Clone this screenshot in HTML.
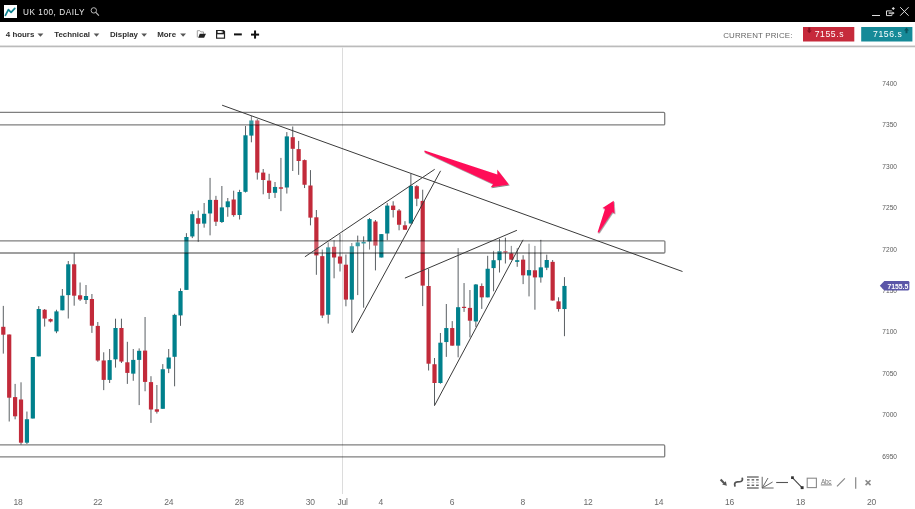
<!DOCTYPE html>
<html><head><meta charset="utf-8">
<style>
html,body{margin:0;padding:0;background:#fff;}
body{width:915px;height:509px;overflow:hidden;position:relative;font-family:"Liberation Sans",sans-serif;}
svg{position:absolute;left:0;top:0;will-change:transform;}
</style></head><body>
<svg width="915" height="509" viewBox="0 0 915 509">
<defs>
<filter id="sh" x="-20%" y="-20%" width="140%" height="160%"><feDropShadow dx="0.6" dy="1" stdDeviation="0.7" flood-color="#000" flood-opacity="0.5"/></filter>
<linearGradient id="tbl" x1="0" y1="0" x2="0" y2="1"><stop offset="0" stop-color="#e2e2e2"/><stop offset="1" stop-color="#a6a6a6"/></linearGradient>
</defs>
<!-- header -->
<rect x="0" y="0" width="915" height="22" fill="#000"/>
<rect x="4" y="5" width="13" height="13" fill="#fff"/>
<polyline points="5.4,15.4 8.4,9.6 11.1,12.3 14.8,8.3" fill="none" stroke="#0f8492" stroke-width="1.7" stroke-linecap="round" stroke-linejoin="round"/>
<text x="23" y="14.8" fill="#e8e8e8" font-size="8.2" letter-spacing="0.55">UK 100, DAILY</text>
<circle cx="93.8" cy="10.4" r="2.7" fill="none" stroke="#b8b8b8" stroke-width="1"/>
<line x1="95.8" y1="12.4" x2="98.9" y2="15.6" stroke="#b8b8b8" stroke-width="1.2"/>
<line x1="872" y1="15.5" x2="880" y2="15.5" stroke="#ddd" stroke-width="1"/>
<path d="M891.8 10.9 L886.5 10.9 L886.5 15.6 L891.8 15.6 L891.8 14.4" fill="none" stroke="#ddd" stroke-width="1"/>
<line x1="888.6" y1="13.1" x2="892.6" y2="13.1" stroke="#ddd" stroke-width="1.3"/>
<path d="M892.4 11.5 L894.6 13.1 L892.4 14.7 Z" fill="#ddd"/>
<path d="M893.3 6.9 L894.9 8.5 L893.3 10.1 L891.7 8.5 Z" fill="#ddd"/>
<line x1="900.2" y1="7.2" x2="908.6" y2="15.7" stroke="#ddd" stroke-width="1"/>
<line x1="908.6" y1="7.2" x2="900.2" y2="15.7" stroke="#ddd" stroke-width="1"/>
<!-- toolbar -->
<g font-size="7.9" font-weight="bold" fill="#2e2e2e">
<text x="5.8" y="37.2">4 hours</text>
<text x="54.2" y="37.2">Technical</text>
<text x="109.9" y="37.2">Display</text>
<text x="157.2" y="37.2">More</text>
</g>
<g fill="#555">
<path d="M37.5 33.6 L43.4 33.6 L40.45 36.8 Z"/>
<path d="M93.7 33.6 L99.3 33.6 L96.5 36.8 Z"/>
<path d="M141.3 33.6 L147 33.6 L144.15 36.8 Z"/>
<path d="M180.2 33.6 L186 33.6 L183.1 36.8 Z"/>
</g>
<!-- folder -->
<path d="M203.5 33.8 L203.5 31.9 L200.9 31.9 L199.9 30.7 L197.3 30.7 L197.3 37.4" fill="none" stroke="#a0a0a0" stroke-width="1"/>
<path d="M199.7 33.8 L206 33.8 L204.1 37.8 L198.2 37.8 Z" fill="#222"/>
<!-- save -->
<path d="M216 30 L223.8 30 L225.1 31.3 L225.1 38.8 L216 38.8 Z" fill="#222"/>
<rect x="217.6" y="31" width="5.2" height="1.9" fill="#fff"/>
<rect x="221.7" y="31.2" width="1" height="1.3" fill="#333"/>
<rect x="217.2" y="34.3" width="6.7" height="3.3" fill="#fff"/>
<rect x="234" y="33.4" width="7.8" height="2" fill="#111"/>
<rect x="251" y="33.6" width="8.1" height="2" fill="#111"/>
<rect x="254.05" y="30.5" width="2" height="8.1" fill="#111"/>
<text x="723.2" y="37.8" fill="#666" font-size="7.9" letter-spacing="0.18">CURRENT PRICE:</text>
<rect x="803" y="27" width="51.3" height="14.5" fill="#c62a3b"/>
<path d="M808.3 27.6 L810.3 27.6 L810.3 30.5 L811.8 30.5 L809.3 33.3 L806.8 30.5 L808.3 30.5 Z" fill="#8a1222"/>
<text x="814.7" y="36.7" fill="#fff" font-size="8.6" letter-spacing="0.6">7155.s</text>
<rect x="861.2" y="27" width="51.2" height="14.5" fill="#168a98"/>
<path d="M905.5 33.3 L907.5 33.3 L907.5 30.4 L909 30.4 L906.5 27.6 L904 30.4 L905.5 30.4 Z" fill="#0a5660"/>
<text x="873" y="36.7" fill="#fff" font-size="8.6" letter-spacing="0.6">7156.s</text>
<rect x="0" y="45.2" width="915" height="2" fill="url(#tbl)"/>
<!-- chart -->
<line x1="342.5" y1="47.5" x2="342.5" y2="494" stroke="#dcdcdc" stroke-width="1"/>
<g id="candles">
<line x1="3.30" y1="305.90" x2="3.30" y2="353.60" stroke="#5a5f63" stroke-width="1"/>
<rect x="1.20" y="326.80" width="4.2" height="7.90" fill="#c22a3a"/>
<line x1="9.21" y1="334.50" x2="9.21" y2="421.50" stroke="#5a5f63" stroke-width="1"/>
<rect x="7.11" y="334.50" width="4.2" height="63.20" fill="#c22a3a"/>
<line x1="15.11" y1="383.90" x2="15.11" y2="419.30" stroke="#5a5f63" stroke-width="1"/>
<rect x="13.01" y="397.10" width="4.2" height="19.20" fill="#c22a3a"/>
<line x1="21.02" y1="382.30" x2="21.02" y2="444.50" stroke="#5a5f63" stroke-width="1"/>
<rect x="18.92" y="399.50" width="4.2" height="43.20" fill="#c22a3a"/>
<line x1="26.93" y1="411.55" x2="26.93" y2="444.00" stroke="#5a5f63" stroke-width="1"/>
<rect x="24.83" y="419.25" width="4.2" height="23.45" fill="#00808c"/>
<line x1="32.84" y1="357.00" x2="32.84" y2="418.50" stroke="#5a5f63" stroke-width="1"/>
<rect x="30.73" y="357.00" width="4.2" height="61.50" fill="#00808c"/>
<line x1="38.74" y1="306.10" x2="38.74" y2="356.40" stroke="#5a5f63" stroke-width="1"/>
<rect x="36.64" y="309.00" width="4.2" height="47.40" fill="#00808c"/>
<line x1="44.65" y1="309.00" x2="44.65" y2="326.60" stroke="#5a5f63" stroke-width="1"/>
<rect x="42.55" y="309.75" width="4.2" height="8.80" fill="#c22a3a"/>
<line x1="50.56" y1="318.50" x2="50.56" y2="322.40" stroke="#5a5f63" stroke-width="1"/>
<rect x="48.46" y="319.10" width="4.2" height="2.40" fill="#c22a3a"/>
<line x1="56.46" y1="309.75" x2="56.46" y2="333.20" stroke="#5a5f63" stroke-width="1"/>
<rect x="54.36" y="311.40" width="4.2" height="20.00" fill="#00808c"/>
<line x1="62.37" y1="289.00" x2="62.37" y2="310.30" stroke="#5a5f63" stroke-width="1"/>
<rect x="60.27" y="295.70" width="4.2" height="14.60" fill="#00808c"/>
<line x1="68.28" y1="261.00" x2="68.28" y2="318.50" stroke="#5a5f63" stroke-width="1"/>
<rect x="66.18" y="264.30" width="4.2" height="30.80" fill="#00808c"/>
<line x1="74.18" y1="253.30" x2="74.18" y2="305.70" stroke="#5a5f63" stroke-width="1"/>
<rect x="72.08" y="264.30" width="4.2" height="31.40" fill="#c22a3a"/>
<line x1="80.09" y1="282.50" x2="80.09" y2="301.00" stroke="#5a5f63" stroke-width="1"/>
<rect x="77.99" y="295.30" width="4.2" height="4.20" fill="#c22a3a"/>
<line x1="86.00" y1="285.00" x2="86.00" y2="304.00" stroke="#5a5f63" stroke-width="1"/>
<rect x="83.90" y="296.00" width="4.2" height="4.00" fill="#00808c"/>
<line x1="91.91" y1="294.00" x2="91.91" y2="332.90" stroke="#5a5f63" stroke-width="1"/>
<rect x="89.81" y="299.00" width="4.2" height="26.70" fill="#c22a3a"/>
<line x1="97.81" y1="322.00" x2="97.81" y2="361.70" stroke="#5a5f63" stroke-width="1"/>
<rect x="95.71" y="325.90" width="4.2" height="34.60" fill="#c22a3a"/>
<line x1="103.72" y1="352.30" x2="103.72" y2="390.15" stroke="#5a5f63" stroke-width="1"/>
<rect x="101.62" y="360.45" width="4.2" height="19.45" fill="#c22a3a"/>
<line x1="109.63" y1="349.00" x2="109.63" y2="383.00" stroke="#5a5f63" stroke-width="1"/>
<rect x="107.53" y="360.10" width="4.2" height="19.80" fill="#00808c"/>
<line x1="115.53" y1="318.70" x2="115.53" y2="367.60" stroke="#5a5f63" stroke-width="1"/>
<rect x="113.43" y="328.00" width="4.2" height="31.35" fill="#00808c"/>
<line x1="121.44" y1="318.70" x2="121.44" y2="363.00" stroke="#5a5f63" stroke-width="1"/>
<rect x="119.34" y="328.00" width="4.2" height="33.55" fill="#c22a3a"/>
<line x1="127.35" y1="341.80" x2="127.35" y2="383.90" stroke="#5a5f63" stroke-width="1"/>
<rect x="125.25" y="362.30" width="4.2" height="10.60" fill="#c22a3a"/>
<line x1="133.25" y1="349.00" x2="133.25" y2="380.80" stroke="#5a5f63" stroke-width="1"/>
<rect x="131.15" y="359.90" width="4.2" height="13.75" fill="#00808c"/>
<line x1="139.16" y1="348.40" x2="139.16" y2="405.10" stroke="#5a5f63" stroke-width="1"/>
<rect x="137.06" y="350.80" width="4.2" height="9.10" fill="#00808c"/>
<line x1="145.07" y1="317.00" x2="145.07" y2="391.25" stroke="#5a5f63" stroke-width="1"/>
<rect x="142.97" y="350.60" width="4.2" height="31.30" fill="#c22a3a"/>
<line x1="150.98" y1="376.20" x2="150.98" y2="422.90" stroke="#5a5f63" stroke-width="1"/>
<rect x="148.88" y="382.10" width="4.2" height="27.40" fill="#c22a3a"/>
<line x1="156.88" y1="385.00" x2="156.88" y2="413.55" stroke="#5a5f63" stroke-width="1"/>
<rect x="154.78" y="409.30" width="4.2" height="2.40" fill="#c22a3a"/>
<line x1="162.79" y1="364.10" x2="162.79" y2="408.80" stroke="#5a5f63" stroke-width="1"/>
<rect x="160.69" y="369.25" width="4.2" height="39.55" fill="#00808c"/>
<line x1="168.70" y1="349.00" x2="168.70" y2="373.10" stroke="#5a5f63" stroke-width="1"/>
<rect x="166.60" y="357.50" width="4.2" height="11.20" fill="#00808c"/>
<line x1="174.60" y1="313.75" x2="174.60" y2="386.30" stroke="#5a5f63" stroke-width="1"/>
<rect x="172.50" y="314.85" width="4.2" height="41.95" fill="#00808c"/>
<line x1="180.51" y1="288.40" x2="180.51" y2="325.85" stroke="#5a5f63" stroke-width="1"/>
<rect x="178.41" y="291.00" width="4.2" height="24.40" fill="#00808c"/>
<line x1="186.42" y1="233.15" x2="186.42" y2="289.90" stroke="#5a5f63" stroke-width="1"/>
<rect x="184.32" y="237.00" width="4.2" height="52.90" fill="#00808c"/>
<line x1="192.32" y1="211.25" x2="192.32" y2="238.10" stroke="#5a5f63" stroke-width="1"/>
<rect x="190.22" y="214.20" width="4.2" height="22.25" fill="#00808c"/>
<line x1="198.23" y1="210.50" x2="198.23" y2="242.00" stroke="#5a5f63" stroke-width="1"/>
<rect x="196.13" y="218.20" width="4.2" height="5.60" fill="#c22a3a"/>
<line x1="204.14" y1="203.00" x2="204.14" y2="227.65" stroke="#5a5f63" stroke-width="1"/>
<rect x="202.04" y="213.80" width="4.2" height="9.80" fill="#00808c"/>
<line x1="210.05" y1="177.90" x2="210.05" y2="235.35" stroke="#5a5f63" stroke-width="1"/>
<rect x="207.95" y="199.90" width="4.2" height="13.55" fill="#00808c"/>
<line x1="215.95" y1="195.85" x2="215.95" y2="226.00" stroke="#5a5f63" stroke-width="1"/>
<rect x="213.85" y="199.90" width="4.2" height="21.80" fill="#c22a3a"/>
<line x1="221.86" y1="186.00" x2="221.86" y2="223.00" stroke="#5a5f63" stroke-width="1"/>
<rect x="219.76" y="207.40" width="4.2" height="14.60" fill="#00808c"/>
<line x1="227.77" y1="198.00" x2="227.77" y2="216.75" stroke="#5a5f63" stroke-width="1"/>
<rect x="225.67" y="201.35" width="4.2" height="5.85" fill="#00808c"/>
<line x1="233.67" y1="190.70" x2="233.67" y2="216.75" stroke="#5a5f63" stroke-width="1"/>
<rect x="231.57" y="199.50" width="4.2" height="15.60" fill="#c22a3a"/>
<line x1="239.58" y1="189.80" x2="239.58" y2="219.50" stroke="#5a5f63" stroke-width="1"/>
<rect x="237.48" y="192.00" width="4.2" height="23.00" fill="#00808c"/>
<line x1="245.49" y1="126.00" x2="245.49" y2="192.55" stroke="#5a5f63" stroke-width="1"/>
<rect x="243.39" y="135.30" width="4.2" height="56.50" fill="#00808c"/>
<line x1="251.39" y1="116.00" x2="251.39" y2="142.30" stroke="#5a5f63" stroke-width="1"/>
<rect x="249.29" y="120.45" width="4.2" height="15.15" fill="#00808c"/>
<line x1="257.30" y1="119.00" x2="257.30" y2="179.60" stroke="#5a5f63" stroke-width="1"/>
<rect x="255.20" y="120.45" width="4.2" height="52.15" fill="#c22a3a"/>
<line x1="263.21" y1="169.00" x2="263.21" y2="194.30" stroke="#5a5f63" stroke-width="1"/>
<rect x="261.11" y="172.60" width="4.2" height="7.40" fill="#c22a3a"/>
<line x1="269.12" y1="173.80" x2="269.12" y2="199.05" stroke="#5a5f63" stroke-width="1"/>
<rect x="267.01" y="180.60" width="4.2" height="12.30" fill="#c22a3a"/>
<line x1="275.02" y1="182.00" x2="275.02" y2="197.95" stroke="#5a5f63" stroke-width="1"/>
<rect x="272.92" y="186.95" width="4.2" height="5.85" fill="#00808c"/>
<line x1="280.93" y1="157.90" x2="280.93" y2="211.15" stroke="#5a5f63" stroke-width="1"/>
<rect x="278.83" y="187.30" width="4.2" height="1.40" fill="#c22a3a"/>
<line x1="286.84" y1="132.10" x2="286.84" y2="193.55" stroke="#5a5f63" stroke-width="1"/>
<rect x="284.74" y="136.40" width="4.2" height="51.10" fill="#00808c"/>
<line x1="292.74" y1="126.50" x2="292.74" y2="171.00" stroke="#5a5f63" stroke-width="1"/>
<rect x="290.64" y="137.20" width="4.2" height="11.60" fill="#c22a3a"/>
<line x1="298.65" y1="140.90" x2="298.65" y2="174.85" stroke="#5a5f63" stroke-width="1"/>
<rect x="296.55" y="149.10" width="4.2" height="11.90" fill="#c22a3a"/>
<line x1="304.56" y1="159.50" x2="304.56" y2="188.05" stroke="#5a5f63" stroke-width="1"/>
<rect x="302.46" y="160.10" width="4.2" height="24.65" fill="#c22a3a"/>
<line x1="310.46" y1="170.10" x2="310.46" y2="225.35" stroke="#5a5f63" stroke-width="1"/>
<rect x="308.36" y="185.50" width="4.2" height="32.15" fill="#c22a3a"/>
<line x1="316.37" y1="210.00" x2="316.37" y2="274.80" stroke="#5a5f63" stroke-width="1"/>
<rect x="314.27" y="217.30" width="4.2" height="38.10" fill="#c22a3a"/>
<line x1="322.28" y1="249.55" x2="322.28" y2="318.05" stroke="#5a5f63" stroke-width="1"/>
<rect x="320.18" y="256.15" width="4.2" height="59.35" fill="#c22a3a"/>
<line x1="328.19" y1="242.40" x2="328.19" y2="323.55" stroke="#5a5f63" stroke-width="1"/>
<rect x="326.08" y="247.35" width="4.2" height="67.40" fill="#00808c"/>
<line x1="334.09" y1="240.40" x2="334.09" y2="278.30" stroke="#5a5f63" stroke-width="1"/>
<rect x="331.99" y="246.80" width="4.2" height="10.70" fill="#c22a3a"/>
<line x1="340.00" y1="234.15" x2="340.00" y2="271.50" stroke="#5a5f63" stroke-width="1"/>
<rect x="337.90" y="256.50" width="4.2" height="7.10" fill="#c22a3a"/>
<line x1="345.91" y1="254.50" x2="345.91" y2="306.30" stroke="#5a5f63" stroke-width="1"/>
<rect x="343.81" y="264.70" width="4.2" height="34.90" fill="#c22a3a"/>
<line x1="351.81" y1="243.00" x2="351.81" y2="332.50" stroke="#5a5f63" stroke-width="1"/>
<rect x="349.71" y="246.25" width="4.2" height="53.35" fill="#00808c"/>
<line x1="357.72" y1="235.60" x2="357.72" y2="295.10" stroke="#5a5f63" stroke-width="1"/>
<rect x="355.62" y="242.40" width="4.2" height="3.85" fill="#00808c"/>
<line x1="363.63" y1="236.35" x2="363.63" y2="307.70" stroke="#5a5f63" stroke-width="1"/>
<rect x="361.53" y="241.85" width="4.2" height="1.65" fill="#00808c"/>
<line x1="369.53" y1="218.00" x2="369.53" y2="249.55" stroke="#5a5f63" stroke-width="1"/>
<rect x="367.43" y="219.10" width="4.2" height="22.40" fill="#00808c"/>
<line x1="375.44" y1="220.00" x2="375.44" y2="270.40" stroke="#5a5f63" stroke-width="1"/>
<rect x="373.34" y="221.50" width="4.2" height="24.10" fill="#c22a3a"/>
<line x1="381.35" y1="234.00" x2="381.35" y2="257.50" stroke="#5a5f63" stroke-width="1"/>
<rect x="379.25" y="234.10" width="4.2" height="23.40" fill="#00808c"/>
<line x1="387.25" y1="203.10" x2="387.25" y2="240.20" stroke="#5a5f63" stroke-width="1"/>
<rect x="385.15" y="205.60" width="4.2" height="27.90" fill="#00808c"/>
<line x1="393.16" y1="201.25" x2="393.16" y2="217.50" stroke="#5a5f63" stroke-width="1"/>
<rect x="391.06" y="205.60" width="4.2" height="4.40" fill="#c22a3a"/>
<line x1="399.07" y1="209.00" x2="399.07" y2="230.30" stroke="#5a5f63" stroke-width="1"/>
<rect x="396.97" y="210.50" width="4.2" height="14.25" fill="#c22a3a"/>
<line x1="404.98" y1="221.20" x2="404.98" y2="229.75" stroke="#5a5f63" stroke-width="1"/>
<rect x="402.88" y="225.30" width="4.2" height="4.45" fill="#c22a3a"/>
<line x1="410.88" y1="173.75" x2="410.88" y2="223.50" stroke="#5a5f63" stroke-width="1"/>
<rect x="408.78" y="185.85" width="4.2" height="37.65" fill="#00808c"/>
<line x1="416.79" y1="185.10" x2="416.79" y2="206.20" stroke="#5a5f63" stroke-width="1"/>
<rect x="414.69" y="186.20" width="4.2" height="12.50" fill="#c22a3a"/>
<line x1="422.70" y1="189.70" x2="422.70" y2="306.10" stroke="#5a5f63" stroke-width="1"/>
<rect x="420.60" y="200.90" width="4.2" height="84.70" fill="#c22a3a"/>
<line x1="428.60" y1="268.75" x2="428.60" y2="370.50" stroke="#5a5f63" stroke-width="1"/>
<rect x="426.50" y="286.00" width="4.2" height="77.70" fill="#c22a3a"/>
<line x1="434.51" y1="358.00" x2="434.51" y2="405.60" stroke="#5a5f63" stroke-width="1"/>
<rect x="432.41" y="364.25" width="4.2" height="18.75" fill="#c22a3a"/>
<line x1="440.42" y1="333.00" x2="440.42" y2="383.70" stroke="#5a5f63" stroke-width="1"/>
<rect x="438.32" y="342.70" width="4.2" height="40.30" fill="#00808c"/>
<line x1="446.32" y1="304.00" x2="446.32" y2="356.90" stroke="#5a5f63" stroke-width="1"/>
<rect x="444.22" y="328.05" width="4.2" height="14.00" fill="#00808c"/>
<line x1="452.23" y1="321.10" x2="452.23" y2="345.65" stroke="#5a5f63" stroke-width="1"/>
<rect x="450.13" y="328.05" width="4.2" height="17.60" fill="#c22a3a"/>
<line x1="458.14" y1="248.10" x2="458.14" y2="357.30" stroke="#5a5f63" stroke-width="1"/>
<rect x="456.04" y="307.20" width="4.2" height="38.45" fill="#00808c"/>
<line x1="464.05" y1="283.05" x2="464.05" y2="311.90" stroke="#5a5f63" stroke-width="1"/>
<rect x="461.95" y="306.80" width="4.2" height="1.20" fill="#c22a3a"/>
<line x1="469.95" y1="290.00" x2="469.95" y2="337.40" stroke="#5a5f63" stroke-width="1"/>
<rect x="467.85" y="307.90" width="4.2" height="12.80" fill="#c22a3a"/>
<line x1="475.86" y1="284.00" x2="475.86" y2="326.95" stroke="#5a5f63" stroke-width="1"/>
<rect x="473.76" y="284.50" width="4.2" height="36.95" fill="#00808c"/>
<line x1="481.77" y1="283.40" x2="481.77" y2="308.90" stroke="#5a5f63" stroke-width="1"/>
<rect x="479.67" y="286.00" width="4.2" height="11.35" fill="#c22a3a"/>
<line x1="487.67" y1="255.80" x2="487.67" y2="297.35" stroke="#5a5f63" stroke-width="1"/>
<rect x="485.57" y="268.75" width="4.2" height="28.60" fill="#00808c"/>
<line x1="493.58" y1="250.85" x2="493.58" y2="291.30" stroke="#5a5f63" stroke-width="1"/>
<rect x="491.48" y="260.20" width="4.2" height="7.90" fill="#00808c"/>
<line x1="499.49" y1="238.75" x2="499.49" y2="272.50" stroke="#5a5f63" stroke-width="1"/>
<rect x="497.39" y="251.20" width="4.2" height="9.00" fill="#00808c"/>
<line x1="505.40" y1="237.65" x2="505.40" y2="263.50" stroke="#5a5f63" stroke-width="1"/>
<rect x="503.30" y="251.20" width="4.2" height="1.30" fill="#c22a3a"/>
<line x1="511.30" y1="245.90" x2="511.30" y2="260.00" stroke="#5a5f63" stroke-width="1"/>
<rect x="509.20" y="253.40" width="4.2" height="6.25" fill="#c22a3a"/>
<line x1="517.21" y1="248.10" x2="517.21" y2="266.80" stroke="#5a5f63" stroke-width="1"/>
<rect x="515.11" y="260.20" width="4.2" height="1.65" fill="#00808c"/>
<line x1="523.12" y1="255.25" x2="523.12" y2="284.10" stroke="#5a5f63" stroke-width="1"/>
<rect x="521.02" y="259.65" width="4.2" height="15.65" fill="#c22a3a"/>
<line x1="529.02" y1="243.70" x2="529.02" y2="296.40" stroke="#5a5f63" stroke-width="1"/>
<rect x="526.92" y="270.10" width="4.2" height="5.40" fill="#00808c"/>
<line x1="534.93" y1="245.90" x2="534.93" y2="309.70" stroke="#5a5f63" stroke-width="1"/>
<rect x="532.83" y="270.30" width="4.2" height="7.10" fill="#c22a3a"/>
<line x1="540.84" y1="239.85" x2="540.84" y2="282.65" stroke="#5a5f63" stroke-width="1"/>
<rect x="538.74" y="267.35" width="4.2" height="10.05" fill="#00808c"/>
<line x1="546.74" y1="254.70" x2="546.74" y2="270.10" stroke="#5a5f63" stroke-width="1"/>
<rect x="544.64" y="260.00" width="4.2" height="7.70" fill="#00808c"/>
<line x1="552.65" y1="260.00" x2="552.65" y2="300.60" stroke="#5a5f63" stroke-width="1"/>
<rect x="550.55" y="261.85" width="4.2" height="38.65" fill="#c22a3a"/>
<line x1="558.56" y1="297.30" x2="558.56" y2="311.60" stroke="#5a5f63" stroke-width="1"/>
<rect x="556.46" y="301.35" width="4.2" height="7.70" fill="#c22a3a"/>
<line x1="564.46" y1="277.15" x2="564.46" y2="336.20" stroke="#5a5f63" stroke-width="1"/>
<rect x="562.36" y="285.95" width="4.2" height="23.10" fill="#00808c"/>
</g>
<g fill="rgba(255,255,255,0.22)" stroke="rgba(0,0,0,0.5)" stroke-width="1.3">
<rect x="-2" y="112.4" width="666.7" height="12.5" rx="1"/>
<rect x="-2" y="240.8" width="666.9" height="12.2" rx="1"/>
<rect x="-2" y="444.9" width="666.7" height="12" rx="1"/>
</g>
<g stroke="#3a3a3a" stroke-width="1" fill="none">
<line x1="222.1" y1="105.2" x2="682.5" y2="271.5"/>
<line x1="304.9" y1="256.8" x2="434.7" y2="169.3"/>
<line x1="352.2" y1="332.9" x2="440.6" y2="170.8"/>
<line x1="404.9" y1="278.1" x2="516.9" y2="230.3"/>
<line x1="434.5" y1="405.6" x2="523.1" y2="239.8"/>
</g>
<g fill="#ff0f58" filter="url(#sh)">
<path d="M424.6 150.4 L497.4 174.6 L497.2 169.6 L508.9 184.4 L490.7 187.2 L493.2 184.1 L425.2 152.6 Q423.8 151.6 424.6 150.4 Z"/>
<path d="M597.6 232.2 L605.1 208.7 L602.5 208.1 L613.7 200.8 L614.5 213.6 L612.4 211.9 L598.8 232.6 Z"/>
</g>
<g font-size="6.6" fill="#5a5a5a">
<text x="889.7" y="85.65" text-anchor="middle">7400</text>
<text x="889.7" y="127.15" text-anchor="middle">7350</text>
<text x="889.7" y="168.60" text-anchor="middle">7300</text>
<text x="889.7" y="210.00" text-anchor="middle">7250</text>
<text x="889.7" y="251.50" text-anchor="middle">7200</text>
<text x="889.7" y="292.90" text-anchor="middle">7150</text>
<text x="889.7" y="334.40" text-anchor="middle">7100</text>
<text x="889.7" y="375.80" text-anchor="middle">7050</text>
<text x="889.7" y="417.15" text-anchor="middle">7000</text>
<text x="889.7" y="458.50" text-anchor="middle">6950</text>
</g>
<path d="M879.8 285.7 L884.3 280.9 L908 280.9 Q909.4 280.9 909.4 282.3 L909.4 289.1 Q909.4 290.5 908 290.5 L884.3 290.5 Z" fill="#5b56a8"/>
<text x="897.9" y="288.7" fill="#fff" font-size="6.8" font-weight="bold" text-anchor="middle">7155.5</text>
<g font-size="8.5" fill="#6a6a6a" letter-spacing="-0.3">
<text x="18" y="504.8" text-anchor="middle">18</text>
<text x="97.7" y="504.8" text-anchor="middle">22</text>
<text x="168.8" y="504.8" text-anchor="middle">24</text>
<text x="239.3" y="504.8" text-anchor="middle">28</text>
<text x="310.2" y="504.8" text-anchor="middle">30</text>
<text x="342.6" y="504.8" text-anchor="middle">Jul</text>
<text x="380.7" y="504.8" text-anchor="middle">4</text>
<text x="452" y="504.8" text-anchor="middle">6</text>
<text x="522.75" y="504.8" text-anchor="middle">8</text>
<text x="588" y="504.8" text-anchor="middle">12</text>
<text x="658.8" y="504.8" text-anchor="middle">14</text>
<text x="729.5" y="504.8" text-anchor="middle">16</text>
<text x="800.5" y="504.8" text-anchor="middle">18</text>
<text x="871.4" y="504.8" text-anchor="middle">20</text>
</g>
<!-- bottom tools -->
<g>
<line x1="720.6" y1="479.6" x2="724.2" y2="483.2" stroke="#555" stroke-width="2.1"/>
<path d="M722.2 484.6 L726.9 485.8 L725.8 481.2 Z" fill="#555"/>
<path d="M734.9 485.9 C734.2 483.6 735 482 737.4 481.8 L740 481.7 C742.1 481.5 742.7 480.2 742.3 478.3" fill="none" stroke="#555" stroke-width="1.8" stroke-linecap="round"/>
<g fill="#555">
<rect x="747" y="476.4" width="11.7" height="1.2"/>
<rect x="747" y="487.4" width="11.7" height="1.2"/>
<rect x="747" y="479.2" width="2.6" height="1.3"/><rect x="751.6" y="479.2" width="2.6" height="1.3"/><rect x="756.1" y="479.2" width="2.6" height="1.3"/>
<rect x="747" y="484.6" width="2.6" height="1.3"/><rect x="751.6" y="484.6" width="2.6" height="1.3"/><rect x="756.1" y="484.6" width="2.6" height="1.3"/>
</g>
<g fill="#bbb">
<rect x="747" y="481.9" width="2.6" height="1.2"/><rect x="751.6" y="481.9" width="2.6" height="1.2"/><rect x="756.1" y="481.9" width="2.6" height="1.2"/>
</g>
<g stroke="#666" stroke-width="1" fill="none">
<line x1="762.2" y1="476.8" x2="762.2" y2="488.2"/>
<line x1="762.2" y1="488" x2="773.6" y2="488"/>
<line x1="762.2" y1="488" x2="768" y2="478"/>
<line x1="762.2" y1="488" x2="772.6" y2="482"/>
</g>
<line x1="776.2" y1="482.5" x2="788" y2="482.5" stroke="#555" stroke-width="1.1"/>
<line x1="792.6" y1="477.8" x2="802" y2="487.6" stroke="#444" stroke-width="1.1"/>
<rect x="791.1" y="476.3" width="2.7" height="2.7" fill="#333"/>
<rect x="800.7" y="486.2" width="2.9" height="2.9" fill="#333"/>
<rect x="807.2" y="478.2" width="9.2" height="9.4" fill="none" stroke="#8a8a8a" stroke-width="1.1"/>
<text x="820.9" y="484.1" font-size="6.4" fill="#777" letter-spacing="-0.2">Abc</text>
<line x1="820.8" y1="484.9" x2="831.8" y2="484.9" stroke="#888" stroke-width="1.1"/>
<line x1="837" y1="486.4" x2="844.9" y2="478.3" stroke="#888" stroke-width="1.2"/>
<line x1="855.7" y1="477.2" x2="855.7" y2="488.7" stroke="#888" stroke-width="1.2"/>
<line x1="865.6" y1="480.2" x2="870.5" y2="485.1" stroke="#888" stroke-width="1.6"/>
<line x1="870.5" y1="480.2" x2="865.6" y2="485.1" stroke="#888" stroke-width="1.6"/>
</g>
</svg>
</body></html>
